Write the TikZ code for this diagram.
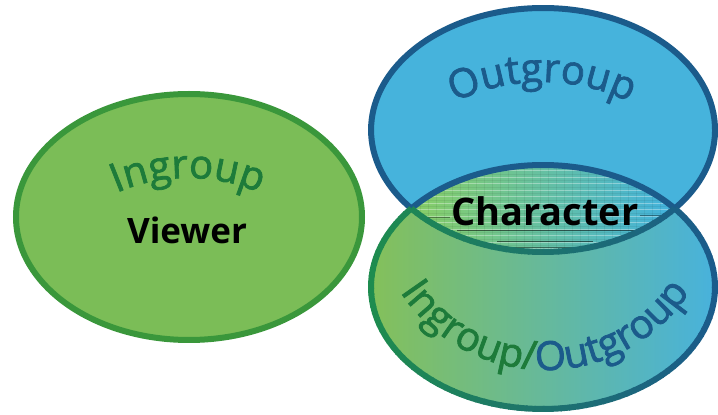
\documentclass[tikz,border=0pt]{standalone}
\usepackage{fontspec}
\setmainfont{Open Sans}
\newfontfamily\arcfont[FakeBold=2]{Open Sans}
\usetikzlibrary{decorations.text}

\definecolor{leftfill}{HTML}{7BBD57}
\definecolor{leftline}{HTML}{3A973B}
\definecolor{ingreen}{HTML}{1D7B3A}
\definecolor{outfill}{HTML}{46B3DC}
\definecolor{outline}{HTML}{1B5B8B}
\definecolor{mixgreen}{HTML}{84C05A}
\definecolor{mixblue}{HTML}{48B2DC}
\definecolor{rimgreen}{HTML}{1E8C4E}
\definecolor{rimblue}{HTML}{1B5B8B}
\definecolor{lensgreen}{HTML}{8CD060}
\definecolor{lensblue}{HTML}{3DB0E6}

\tikzset{
  rim/.style={line width=6pt},
  label/.style={inner sep=0pt, font=\bfseries\fontsize{#1}{#1}\selectfont, text=black},
  arclabel/.style={decorate, decoration={text along path, text align=center, text={#1}}}
}
\newcommand\arcsize{\arcfont\fontsize{40}{40}\selectfont}

\begin{document}
\begin{tikzpicture}[x=1pt, y=1pt]
\useasboundingbox (0,0) rectangle (718,415);

% centres of the three ellipses and the two crossing points of the right pair
\coordinate (L) at (189,198);
\coordinate (T) at (543,285);
\coordinate (B) at (543,128);
\coordinate (cl) at (411.3,206.5);
\coordinate (cr) at (674.7,206.5);

% right pair: fills
\fill[outfill] (T) ellipse[x radius=172, y radius=122];
\shade[left color=mixgreen, right color=mixblue] (B) ellipse[x radius=172, y radius=122];

% overlap: tiled lens
\begin{scope}
  \clip (T) ellipse[x radius=172, y radius=122];
  \clip (B) ellipse[x radius=172, y radius=122];
  \shade[left color=lensgreen, right color=lensblue] (400,150) rectangle (690,265);
  \foreach \yy in {160,166.5,...,256}
    \draw[white, opacity=.35, line width=.9pt] (400,\yy) -- (690,\yy);
  \foreach \yy in {163,169.5,...,256}
    \draw[black, opacity=.06, line width=.8pt] (400,\yy) -- (690,\yy);
  \foreach \xx in {404,412,...,690}
    \draw[black, opacity=.06, line width=.6pt] (\xx,150) -- (\xx,265);
  \draw[black, opacity=.55, line width=1pt] (457,184) -- (638,184);
  \draw[black, opacity=.55, line width=1pt] (497,173) -- (593,173);
  \draw[black, opacity=.45, line width=.9pt] (500,168) -- (590,168);
  \draw[black, opacity=.4, line width=.8pt] (427,198) -- (450,198);
  \draw[black, opacity=.4, line width=.8pt] (640,200) -- (680,200);
  \draw[black, opacity=.4, line width=.8pt] (645,190) -- (675,190);
\end{scope}

% upper crescent outline (dark blue)
\draw[rim, outline, line join=round]
  (cr) arc[start angle=-40.05, end angle=220.05, x radius=172, y radius=122]
       arc[start angle=139.95, end angle=40.05, x radius=172, y radius=122];

% lower crescent outline, green on the left to blue on the right
\foreach \i in {0,...,89}{
  \pgfmathsetmacro\rimA{139.95+\i*2.89}
  \pgfmathsetmacro\rimB{min(\rimA+3.4,400.05)}
  \pgfmathtruncatemacro\rimP{50*(1-cos(\rimA+1.45))}
  \draw[rim, color=rimgreen!\rimP!rimblue]
    (B) ++(\rimA:172 and 122) arc[start angle=\rimA, end angle=\rimB, x radius=172, y radius=122];
}
\foreach \i in {0,...,39}{
  \pgfmathsetmacro\rimA{-139.95+\i*2.4975}
  \pgfmathsetmacro\rimB{min(\rimA+3.0,-40.05)}
  \pgfmathtruncatemacro\rimP{50*(1-cos(\rimA+1.25))}
  \draw[rim, color=rimgreen!\rimP!rimblue]
    (T) ++(\rimA:172 and 122) arc[start angle=\rimA, end angle=\rimB, x radius=172, y radius=122];
}

% left ellipse
\draw[rim, leftline, fill=leftfill] (L) ellipse[x radius=173, y radius=123];

% curved labels
\path[arclabel={|\color{ingreen}\arcsize|Ingroup}]
  (188,57) ++(145:180) arc[start angle=145, end angle=35, radius=180];
\path[arclabel={|\color{outline}\arcsize|Outgroup}]
  (542,133) ++(140:200) arc[start angle=140, end angle=40, radius=200];
\path[arclabel={|\color{ingreen}\arcsize|Ingroup/|\color{outline}\arcsize|Outgroup}]
  (545,218) ++(200:173) arc[start angle=200, end angle=340, radius=173];

% straight labels
\node[label=35] (viewer) at (187,185) {Viewer};
\node[label=38] (character) at (545,204) {Character};
\end{tikzpicture}
\end{document}
